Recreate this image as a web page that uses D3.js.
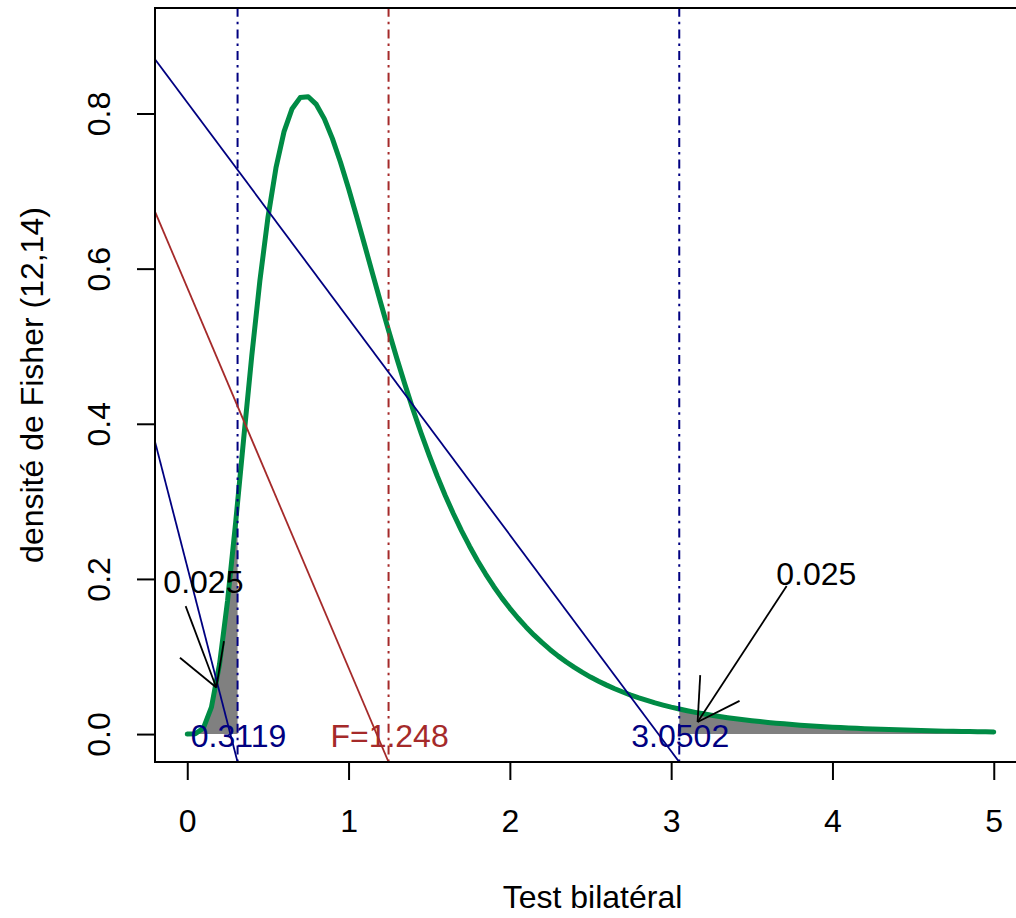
<!DOCTYPE html>
<html>
<head>
<meta charset="utf-8">
<script src="https://cdn.jsdelivr.net/npm/d3@7"></script>
<style>
  body { margin: 0; background: #fff; }
  text { font-family: "Liberation Sans", Arial, sans-serif; }
</style>
</head>
<body>
<div id="chart"></div>
<script>

// F(12,14) density, step 0.05 from 0 to 5
const xVals = [0,0.05,0.1,0.15,0.2,0.25,0.3,0.35,0.4,0.45,0.5,0.55,0.6,0.65,0.7,0.75,0.8,0.85,0.9,0.95,
  1,1.05,1.1,1.15,1.2,1.25,1.3,1.35,1.4,1.45,1.5,1.55,1.6,1.65,1.7,1.75,1.8,1.85,1.9,1.95,
  2,2.05,2.1,2.15,2.2,2.25,2.3,2.35,2.4,2.45,2.5,2.55,2.6,2.65,2.7,2.75,2.8,2.85,2.9,2.95,
  3,3.05,3.1,3.15,3.2,3.25,3.3,3.35,3.4,3.45,3.5,3.55,3.6,3.65,3.7,3.75,3.8,3.85,3.9,3.95,
  4,4.05,4.1,4.15,4.2,4.25,4.3,4.35,4.4,4.45,4.5,4.55,4.6,4.65,4.7,4.75,4.8,4.85,4.9,4.95,5];
const density = [0,0.0004,0.0076,0.0347,0.0899,0.1721,0.2727,0.3813,0.4876,0.584,0.6656,0.73,0.7766,0.8062,0.8205,0.8216,0.8117,0.7931,0.7676,0.7372,
  0.7033,0.6672,0.6301,0.5926,0.5554,0.519,0.4839,0.4502,0.4181,0.3878,0.3592,0.3324,0.3073,0.284,0.2623,0.2422,0.2235,0.2063,0.1903,0.1756,
  0.1621,0.1496,0.1381,0.1275,0.1178,0.1088,0.1005,0.0929,0.0859,0.0795,0.0735,0.0681,0.0631,0.0585,0.0542,0.0502,0.0466,0.0433,0.0402,0.0374,
  0.0347,0.0323,0.0301,0.028,0.0261,0.0243,0.0227,0.0211,0.0197,0.0184,0.0172,0.0161,0.015,0.0141,0.0132,0.0123,0.0115,0.0108,0.0101,0.0095,
  0.0089,0.0084,0.0079,0.0074,0.007,0.0065,0.0062,0.0058,0.0055,0.0051,0.0049,0.0046,0.0043,0.0041,0.0038,0.0036,0.0034,0.0032,0.0031,0.0029,0.0027];

// critical values and the observed F
const critX = [0.3119, 1.248, 3.0502];
const critLabels = ["0.3119", "F=1.248", "3.0502"];
const critColors = ["navy", "brown", "navy"];
const critDensity = [0.298, 0.5245, 0.0322];
// slanted lines: value at the left edge, ending at the crit value on the bottom edge
const slantLeftY = [0.377, 0.6735, 0.870];

// tail annotations
const tailText = ["0.025", "0.025"];
const tailTextX = [0.1, 3.9];
const tailTextY = [0.2, 0.21];
const arrowFrom = [[-0.01, 0.165], [3.716, 0.191]];
const arrowTo = [[0.18, 0.06], [3.164, 0.0155]];

const xTicks = [0, 1, 2, 3, 4, 5];
const yTicks = [0, 0.2, 0.4, 0.6, 0.8];

const width = 1016, height = 918;
const margin = {left: 155, top: 8, bottom: 156};
const xMin = -0.2, xMax = 5.2, yMin = -0.036, yMax = 0.936;
const fs = 32;

const svg = d3.select("#chart")
  .append("svg")
  .attr("width", width)
  .attr("height", height);

svg.append("rect").attr("width", width).attr("height", height).attr("fill", "#fff");

const x = d3.scaleLinear().domain([xMin, xMax]).range([margin.left, margin.left + 5.4 * 161.3]);
const y = d3.scaleLinear().domain([yMin, yMax]).range([height - margin.bottom, margin.top]);

svg.append("clipPath").attr("id", "clip")
  .append("rect")
  .attr("x", x(xMin)).attr("y", y(yMax))
  .attr("width", x(xMax) - x(xMin)).attr("height", y(yMin) - y(yMax));

const plot = svg.append("g").attr("clip-path", "url(#clip)");

const pts = xVals.map((v, i) => [v, density[i]]);

// shaded tails
const leftTail = [[0, 0]].concat(pts.filter(p => p[0] < critX[0]), [[critX[0], critDensity[0]], [critX[0], 0]]);
const rightTail = [[critX[2], 0], [critX[2], critDensity[2]]].concat(pts.filter(p => p[0] > critX[2]), [[5, 0]]);

const area = d3.line().x(d => x(d[0])).y(d => y(d[1]));

plot.selectAll(".tail")
  .data([leftTail, rightTail])
  .enter()
  .append("path")
    .attr("d", d => area(d) + "Z")
    .attr("fill", "#808080")
    .attr("stroke", "none");

// density curve
plot.append("path")
  .datum(pts)
  .attr("d", area)
  .attr("fill", "none")
  .attr("stroke", "#008B45")
  .attr("stroke-width", 5)
  .attr("stroke-linecap", "round")
  .attr("stroke-linejoin", "round");

// vertical dot-dash lines
plot.selectAll(".vline")
  .data(critX)
  .enter()
  .append("line")
    .attr("x1", d => x(d)).attr("x2", d => x(d))
    .attr("y1", y(yMin)).attr("y2", y(yMax))
    .attr("stroke", (d, i) => critColors[i])
    .attr("stroke-width", 2)
    .attr("stroke-dasharray", "2.5,5,9,5.2");

// slanted lines
plot.selectAll(".slant")
  .data(critX)
  .enter()
  .append("line")
    .attr("x1", x(xMin)).attr("y1", (d, i) => y(slantLeftY[i]))
    .attr("x2", d => x(d)).attr("y2", y(yMin))
    .attr("stroke", (d, i) => critColors[i])
    .attr("stroke-width", 1.8);

// arrows (open heads, 30 degrees)
const headLen = 47;
arrowFrom.forEach((f, i) => {
  const x0 = x(f[0]), y0 = y(f[1]);
  const x1 = x(arrowTo[i][0]), y1 = y(arrowTo[i][1]);
  const ang = Math.atan2(y0 - y1, x0 - x1);
  const g = plot.append("g").attr("stroke", "#000").attr("stroke-width", 1.8).attr("fill", "none");
  g.append("line").attr("x1", x0).attr("y1", y0).attr("x2", x1).attr("y2", y1);
  [-Math.PI / 6, Math.PI / 6].forEach(a => {
    g.append("line")
      .attr("x1", x1).attr("y1", y1)
      .attr("x2", x1 + headLen * Math.cos(ang + a))
      .attr("y2", y1 + headLen * Math.sin(ang + a));
  });
});

// labels at y = 0
svg.selectAll(".critLabel")
  .data(critX)
  .enter()
  .append("text")
    .attr("x", d => x(d) + 1)
    .attr("y", y(0) + 13)
    .attr("text-anchor", "middle")
    .attr("font-size", fs)
    .attr("fill", (d, i) => critColors[i])
    .text((d, i) => critLabels[i]);

svg.selectAll(".tailText")
  .data(tailText)
  .enter()
  .append("text")
    .attr("x", (d, i) => x(tailTextX[i]))
    .attr("y", (d, i) => y(tailTextY[i]) + 14)
    .attr("text-anchor", "middle")
    .attr("font-size", fs)
    .attr("fill", "#000")
    .text(d => d);

// box
svg.append("rect")
  .attr("x", x(xMin)).attr("y", y(yMax))
  .attr("width", x(xMax) - x(xMin)).attr("height", y(yMin) - y(yMax))
  .attr("fill", "none")
  .attr("stroke", "#000")
  .attr("stroke-width", 2);

// axes
const xAxis = svg.append("g")
  .attr("transform", `translate(0,${y(yMin)})`)
  .call(d3.axisBottom(x).tickValues(xTicks).tickSize(18).tickFormat(d3.format("d")));
xAxis.select(".domain").remove();
xAxis.selectAll("line").attr("stroke-width", 2);
xAxis.selectAll("text").attr("font-size", fs).attr("font-family", "Liberation Sans, Arial, sans-serif").attr("dy", 0).attr("y", 70);

const yAxis = svg.append("g")
  .attr("transform", `translate(${x(xMin)},0)`)
  .call(d3.axisLeft(y).tickValues(yTicks).tickSize(18).tickFormat(d3.format(".1f")));
yAxis.select(".domain").remove();
yAxis.selectAll("line").attr("stroke-width", 2);
yAxis.selectAll("text")
  .attr("font-size", fs)
  .attr("font-family", "Liberation Sans, Arial, sans-serif")
  .attr("text-anchor", "middle")
  .attr("x", 0).attr("y", 0).attr("dy", 0)
  .attr("transform", "translate(-45,0) rotate(-90)");

// axis titles
svg.append("text")
  .attr("x", x(2.5) + 2)
  .attr("y", 908)
  .attr("text-anchor", "middle")
  .attr("font-size", fs)
  .text("Test bilatéral");

svg.append("text")
  .attr("transform", `translate(43,${(y(yMin) + y(yMax)) / 2}) rotate(-90)`)
  .attr("text-anchor", "middle")
  .attr("font-size", fs)
  .text("densité de Fisher (12,14)");

</script>
</body>
</html>
